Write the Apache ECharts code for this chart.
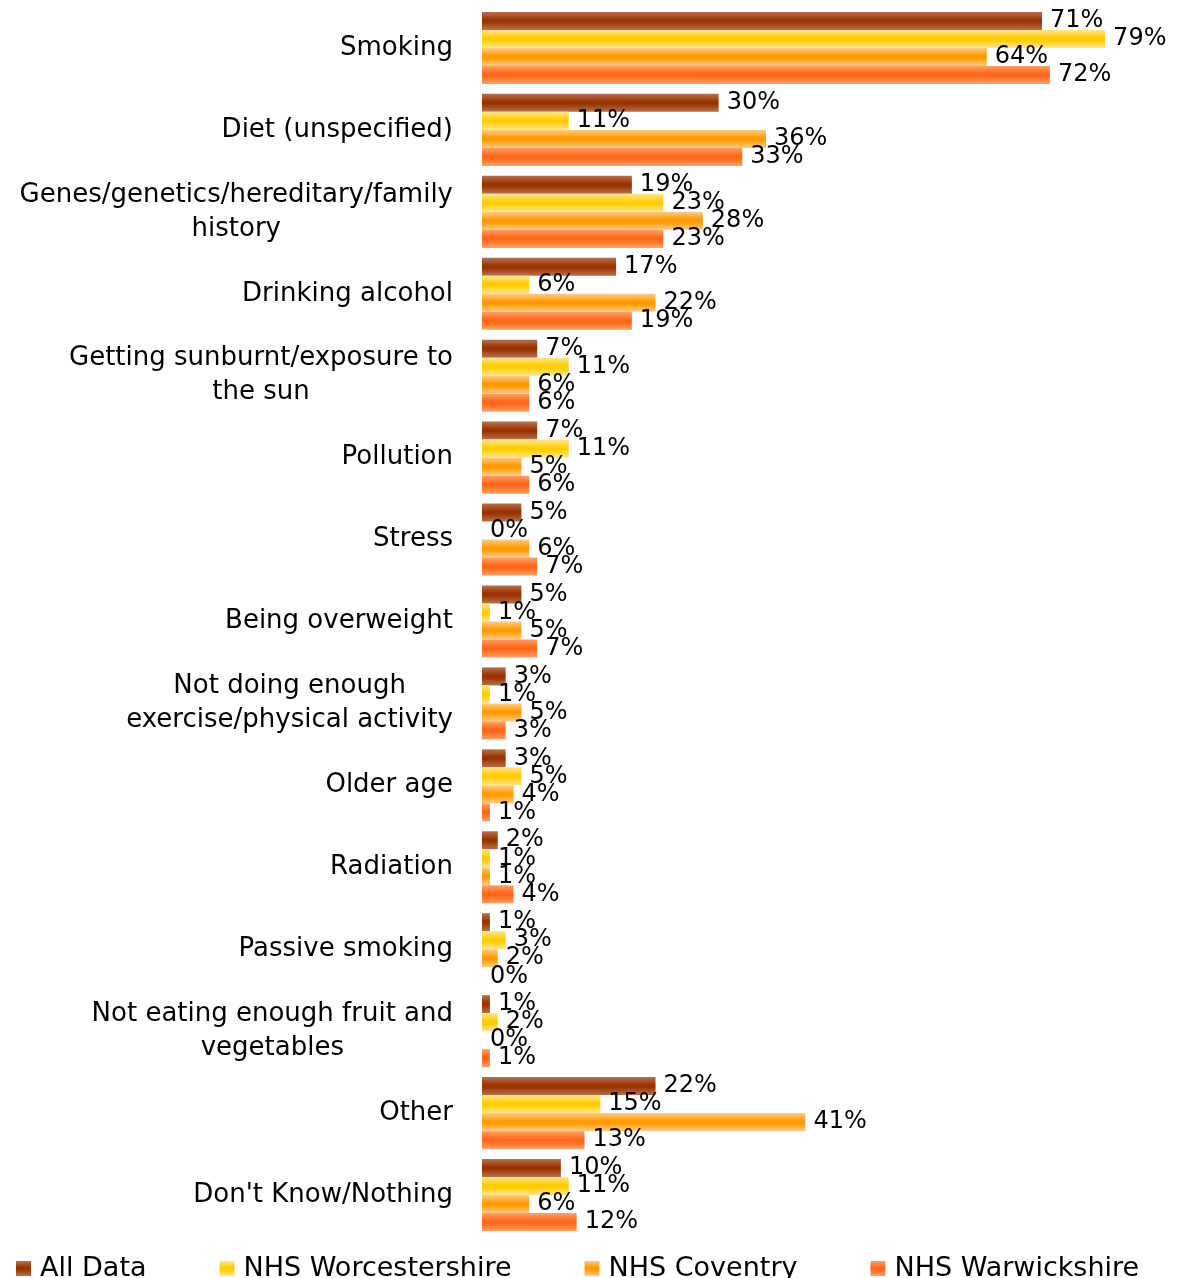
<!DOCTYPE html>
<html>
<head>
<meta charset="utf-8">
<script src="https://cdn.jsdelivr.net/npm/echarts@6/dist/echarts.min.js"></script>
<style>
    html, body { margin: 0; padding: 0; background: #fff; }
    #chart { width: 1178px; height: 1278px; }
</style>
</head>
<body>
<div id="chart"></div>
<script>
// 类别（从上到下）
var categories = [
    "Smoking",
    "Diet (unspecified)",
    "Genes/genetics/hereditary/family\nhistory",
    "Drinking alcohol",
    "Getting sunburnt/exposure to\nthe sun",
    "Pollution",
    "Stress",
    "Being overweight",
    "Not doing enough\nexercise/physical activity",
    "Older age",
    "Radiation",
    "Passive smoking",
    "Not eating enough fruit and\nvegetables",
    "Other",
    "Don't Know/Nothing"
];
var seriesNames = ["All Data", "NHS Worcestershire", "NHS Coventry", "NHS Warwickshire"];
var allData = [71, 30, 19, 17, 7, 7, 5, 5, 3, 3, 2, 1, 1, 22, 10];
var worcestershire = [79, 11, 23, 6, 11, 11, 0, 1, 1, 5, 1, 3, 2, 15, 11];
var coventry = [64, 36, 28, 22, 6, 5, 6, 5, 5, 4, 1, 2, 0, 41, 6];
var warwickshire = [72, 33, 23, 19, 6, 6, 7, 7, 3, 1, 4, 0, 1, 13, 12];

var font = "DejaVu Sans";

// 渐变色 边缘浅 中间深
function grad(edge, mid) {
    return new echarts.graphic.LinearGradient(0, 0, 0, 1, [
        { offset: 0, color: edge },
        { offset: 0.45, color: mid },
        { offset: 0.55, color: mid },
        { offset: 1, color: edge }
    ]);
}
var colors = [
    grad("#b8704e", "#993300"),
    grad("#ffe590", "#ffcc00"),
    grad("#ffcb85", "#ff9900"),
    grad("#ffa066", "#ff6618")
];

var values = [allData, worcestershire, coventry, warwickshire];
var series = [];
for (var i = 0; i < values.length; i++) {
    series.push({
        name: seriesNames[i],
        type: "bar",
        data: values[i],
        barGap: "0%",
        barCategoryGap: "12%",
        itemStyle: { color: colors[i] },
        label: {
            show: true,
            position: "right",
            distance: 8,
            formatter: "{c}%",
            color: "#000",
            fontFamily: font,
            fontSize: 24
        }
    });
}

var option = {
    animation: false,
    backgroundColor: "#fff",
    grid: { left: 482, right: 65, top: 7, bottom: 42 },
    legend: {
        left: 16,
        bottom: -4,
        padding: 0,
        itemGap: 73,
        itemWidth: 15,
        itemHeight: 15,
        icon: "rect",
        textStyle: { fontFamily: font, fontSize: 27, color: "#000", padding: [0, 0, 0, 4] },
        data: seriesNames
    },
    xAxis: {
        type: "value",
        min: 0,
        max: 80,
        show: false
    },
    yAxis: {
        type: "category",
        inverse: true,
        data: categories,
        axisLine: { show: false },
        axisTick: { show: false },
        axisLabel: {
            margin: 29,
            align: "right",
            fontFamily: font,
            fontSize: 26,
            color: "#000",
            lineHeight: 34,
            formatter: function(v) {
                return v.split("\n").map(function(l) { return "{c|" + l + "}"; }).join("\n");
            },
            rich: {
                c: { align: "center", fontFamily: font, fontSize: 26, lineHeight: 34, color: "#000" }
            }
        }
    },
    series: series
};

var chart = echarts.init(document.getElementById("chart"));
chart.setOption(option);
</script>
</body>
</html>
